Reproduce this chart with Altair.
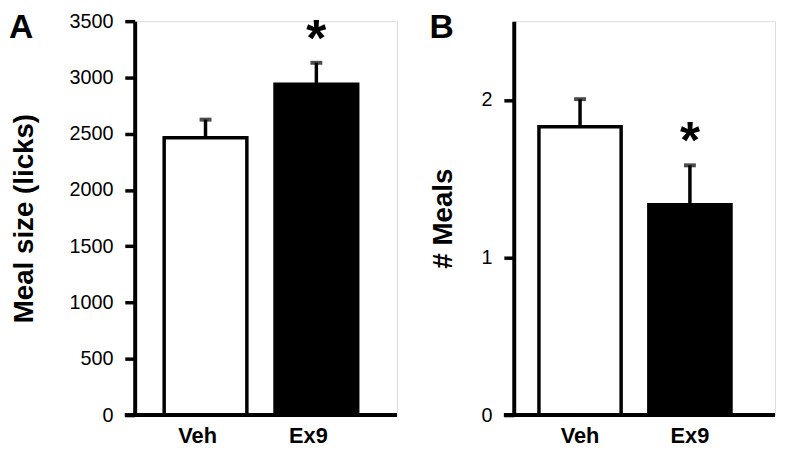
import altair as alt
import pandas as pd

groups = ["Veh", "Ex9"]
meal_size = [2465, 2940]
meal_size_err = [2625, 3130]
meal_count = [1.83, 1.335]
meal_count_err = [2.005, 1.585]
sig = ["", "*"]

FONT = "Liberation Sans"
H = 398

df_a = pd.DataFrame({"g": groups, "v": meal_size, "e": meal_size_err, "s": sig})
df_b = pd.DataFrame({"g": groups, "v": meal_count, "e": meal_count_err, "s": sig})

fill_scale = alt.Scale(domain=groups, range=["white", "black"])


def panel(df, letter, ytitle, domain, yvalues, labelexpr, width, xscale, letter_x, label_off, tpad):
    x_axis = alt.Axis(title=None, labelAngle=0, ticks=False, domain=False,
                      labelFontSize=22, labelFontWeight="bold", labelFont=FONT, labelColor="black",
                      labelPadding=11, labelOffset=label_off)
    y_axis = alt.Axis(title=ytitle, values=yvalues, format="d", labelExpr=labelexpr,
                      grid=False, tickSize=10, tickWidth=3.5, tickColor="black", domainWidth=4,
                      domainColor="black", labelFontSize=20, labelFont=FONT, labelColor="black",
                      labelPadding=12, titleFontSize=28, titleFont=FONT, titleFontWeight="bold",
                      titleColor="black", titlePadding=tpad)
    x = alt.X("g:N", sort=groups, scale=xscale, axis=x_axis)
    base = alt.Chart(df)
    bars = base.mark_bar(stroke="black", strokeWidth=3.5).encode(
        x=x,
        y=alt.Y("v:Q", scale=alt.Scale(domain=domain, nice=False, zero=True), axis=y_axis),
        fill=alt.Fill("g:N", scale=fill_scale, legend=None),
    )
    rule = base.mark_rule(color="black", strokeWidth=3.5).encode(
        x=alt.X("g:N", sort=groups), y="v:Q", y2="e:Q")
    cap = base.mark_tick(color="black", size=12, thickness=4).encode(
        x=alt.X("g:N", sort=groups), y="e:Q")
    star = base.mark_text(fontSize=52, fontWeight="bold", font=FONT, color="black",
                          baseline="alphabetic", dy=-7).encode(
        x=alt.X("g:N", sort=groups), y="e:Q", text="s:N")
    one = alt.Chart(pd.DataFrame({"t": [letter]}))
    baseline = one.mark_rule(color="black", strokeWidth=4).encode(
        x=alt.value(-10), x2=alt.value(width), y=alt.value(H))
    let = one.mark_text(
        fontSize=34, fontWeight="bold", font=FONT, color="black", align="left",
        baseline="alphabetic").encode(x=alt.value(letter_x), y=alt.value(17), text="t:N")
    return alt.layer(bars, rule, cap, star, baseline, let).properties(width=width, height=H)


a = panel(df_a, "A", "Meal size (licks)", [0, 3500], [0, 500, 1000, 1500, 2000, 2500, 3000, 3500],
          "datum.label", 265,
          alt.Scale(paddingInner=0.254, paddingOuter=0.31, align=0.429), -127, -8, 31)
b = panel(df_b, "B", "# Meals", [0, 2.5], [0, 0.5, 1, 1.5, 2, 2.5],
          "datum.value % 1 === 0 ? datum.label : ''", 264,
          alt.Scale(paddingInner=0.252, paddingOuter=0.315, align=0.364), -85, 0, 24)

chart = alt.hconcat(a, b, spacing=118, bounds="flush").properties(
    padding=0
).configure_view(stroke=None).configure(background="white")

chart.save("out.html", embed_options={"renderer": "svg", "actions": False})
